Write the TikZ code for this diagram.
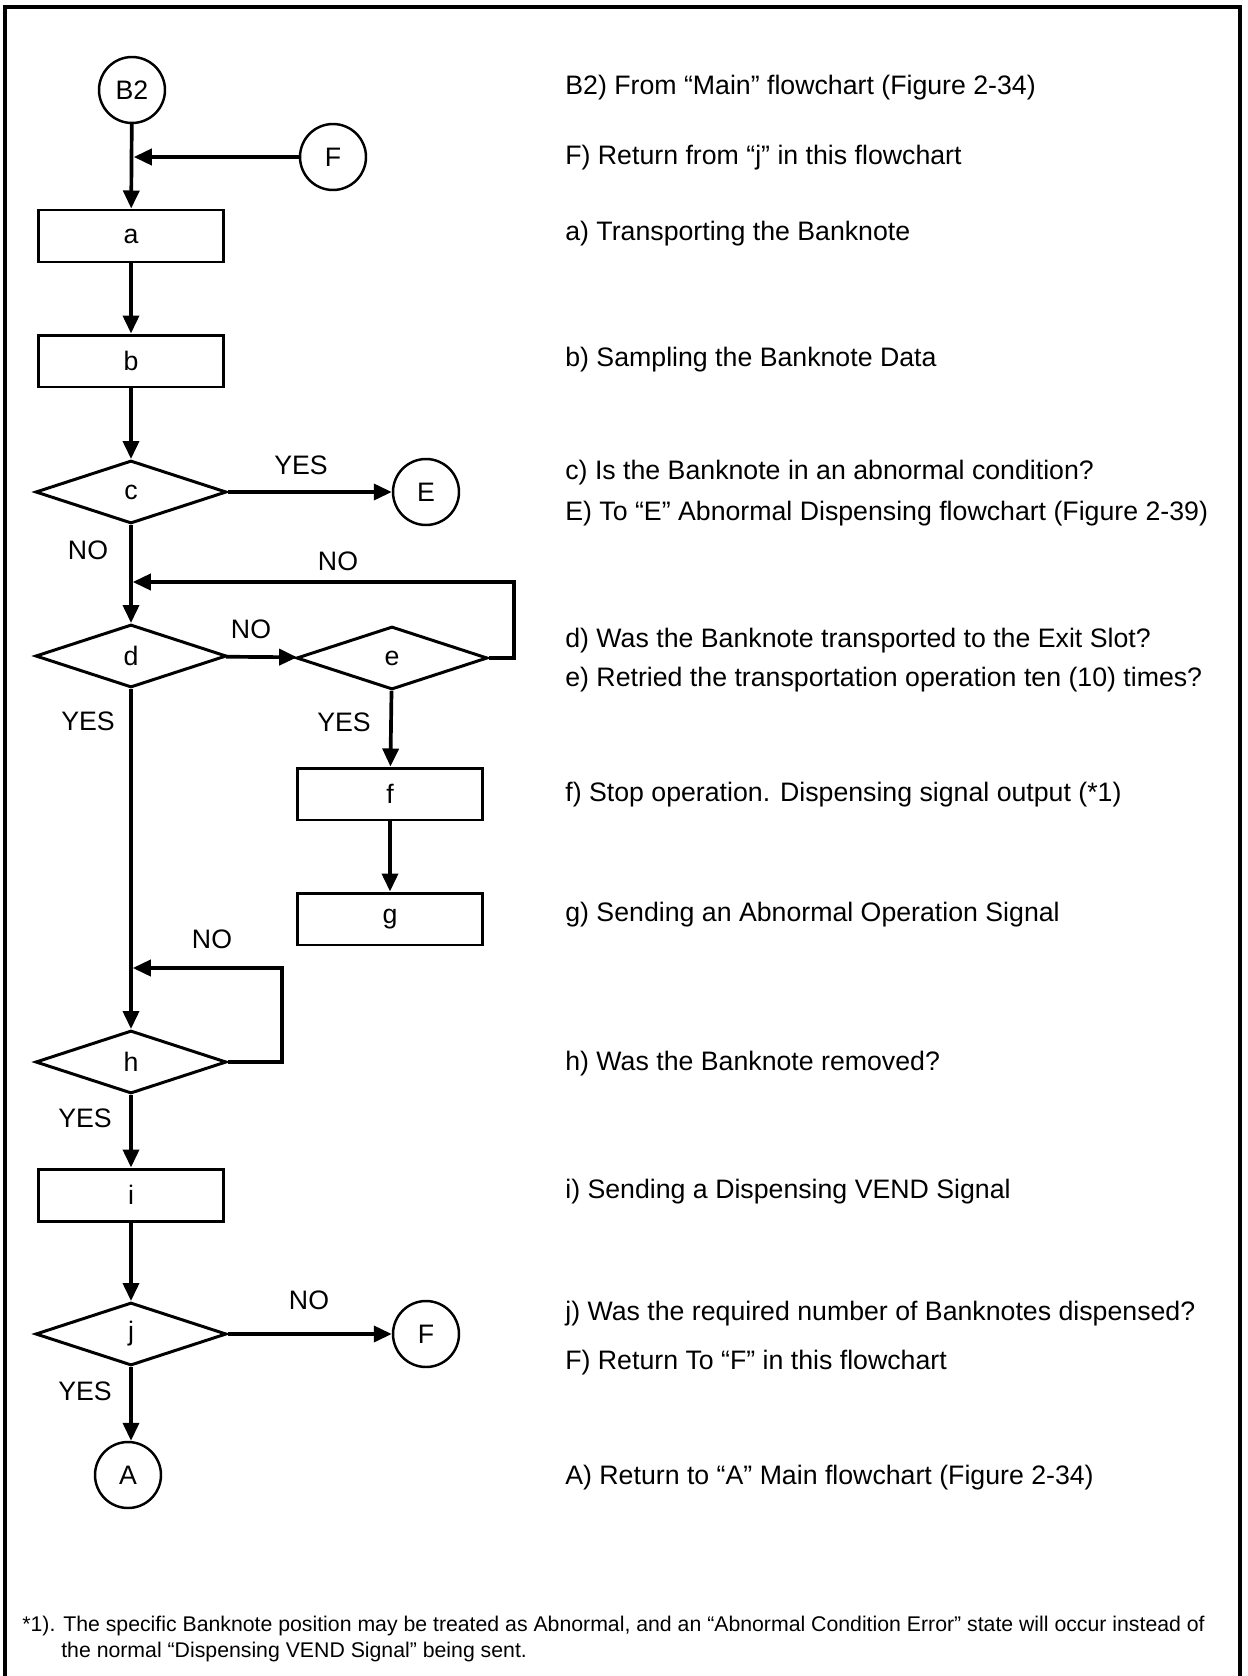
\documentclass[tikz,border=0pt]{standalone}
\usepackage{fontspec}
\setmainfont{Liberation Sans}
\usetikzlibrary{shapes.geometric,arrows.meta}

\begin{document}
\begin{tikzpicture}[
  x=0.02cm, y=-0.02cm,
  font=\fontsize{15.2}{18}\selectfont,
  box/.style={
    rectangle, draw=black, line width=1.7pt,
    minimum width=3.7cm, minimum height=1.04cm, inner sep=0pt
  },
  decision/.style={
    diamond, draw=black, line width=1.7pt,
    minimum width=3.82cm, minimum height=1.26cm,
    inner sep=0pt, aspect=3
  },
  connector/.style={
    circle, draw=black, line width=1.4pt,
    minimum size=1.32cm, inner sep=0pt
  },
  note/.style={anchor=west, inner sep=0pt},
  yesno/.style={inner sep=0pt},
  arr/.style={-{Triangle[length=0.36cm,width=0.32cm]}, line width=2.1pt},
  joinarr/.style={arr, shorten >=1pt}
]
\useasboundingbox (0,0) rectangle (1247,1676);

% Frame (open at the bottom)
\draw[line width=2.3pt] (5,1676) -- (5,7) -- (1240,7) -- (1240,1676);

% Flowchart nodes
\node[connector] (start) at (132,90) {B2};
\node[connector] (retF) at (333,157) {F};
\node[box] (a) at (131,236) {a};
\node[box] (b) at (131,361) {b};
\node[decision] (c) at (131,492) {c};
\node[connector] (toE) at (426,492) {E};
\node[decision] (d) at (131,656) {d};
\node[decision] (e) at (392,658) {e};
\node[box] (f) at (390,794) {f};
\node[box] (g) at (390,919) {g};
\node[decision] (h) at (131,1062) {h};
\node[box] (i) at (131,1195) {i};
\node[decision] (j) at (131,1334) {j};
\node[connector] (toF) at (426,1334) {F};
\node[connector] (toA) at (128,1475) {A};

% Merge points on the main line
\coordinate (mF) at (start |- retF);
\coordinate (mE) at (131,582);
\coordinate (mH) at (131,968);

% Arrows down the main line
\draw[arr] (start) -- (a);
\draw[joinarr] (retF) -- (mF);
\draw[arr] (a) -- (b);
\draw[arr] (b) -- (c);
\draw[arr] (c) -- (toE);
\draw[arr] (c) -- (d);
\draw[arr] (d) -- (e);
\draw[joinarr] (e.east) -- ++(25,0) |- (mE);
\draw[arr] (e) -- (f);
\draw[arr] (f) -- (g);
\draw[arr] (d) -- (h);
\draw[joinarr] (h.east) -- ++(54,0) |- (mH);
\draw[arr] (h) -- (i);
\draw[arr] (i) -- (j);
\draw[arr] (j) -- (toF);
\draw[arr] (j.south) -- (toA.north -| j.south);

% YES / NO labels
\node[yesno] (yc) at (301,465) {YES};
\node[yesno] (nc) at (88,550) {NO};
\node[yesno] (ne) at (338,561) {NO};
\node[yesno] (nd) at (251,629) {NO};
\node[yesno] (yd) at (88,721) {YES};
\node[yesno] (ye) at (344,722) {YES};
\node[yesno] (nh) at (212,939) {NO};
\node[yesno] (yh) at (85,1118) {YES};
\node[yesno] (nj) at (309,1300) {NO};
\node[yesno] (yj) at (85,1391) {YES};

% Explanations
\node[note] (tB) at (565,88) {B2) From “Main” flowchart (Figure 2-34)};
\node[note] (tF) at (565,158) {F) Return from “j” in this flowchart};
\node[note] (ta) at (565,234) {a) Transporting the Banknote};
\node[note] (tb) at (565,360) {b) Sampling the Banknote Data};
\node[note] (tc) at (565,473) {c) Is the Banknote in an abnormal condition?};
\node[note] (tE) at (565,514) {E) To “E” Abnormal Dispensing flowchart (Figure 2-39)};
\node[note] (td) at (565,641) {d) Was the Banknote transported to the Exit Slot?};
\node[note] (te) at (565,680) {e) Retried the transportation operation ten (10) times?};
\node[note] (tf) at (565,795) {f) Stop operation. Dispensing signal output (*1)};
\node[note] (tg) at (565,915) {g) Sending an Abnormal Operation Signal};
\node[note] (th) at (565,1064) {h) Was the Banknote removed?};
\node[note] (ti) at (565,1192) {i) Sending a Dispensing VEND Signal};
\node[note] (tj) at (565,1314) {j) Was the required number of Banknotes dispensed?};
\node[note] (tF2) at (565,1363) {F) Return To “F” in this flowchart};
\node[note] (tA) at (565,1478) {A) Return to “A” Main flowchart (Figure 2-34)};

% Footnote
\node[note, align=left, font=\fontsize{12.1}{15.2}\selectfont] (foot) at (22,1639)
  {*1). The specific Banknote position may be treated as Abnormal, and an “Abnormal Condition Error” state will occur instead of\\
   \phantom{*1).\ }the normal “Dispensing VEND Signal” being sent.};

\end{tikzpicture}
\end{document}
